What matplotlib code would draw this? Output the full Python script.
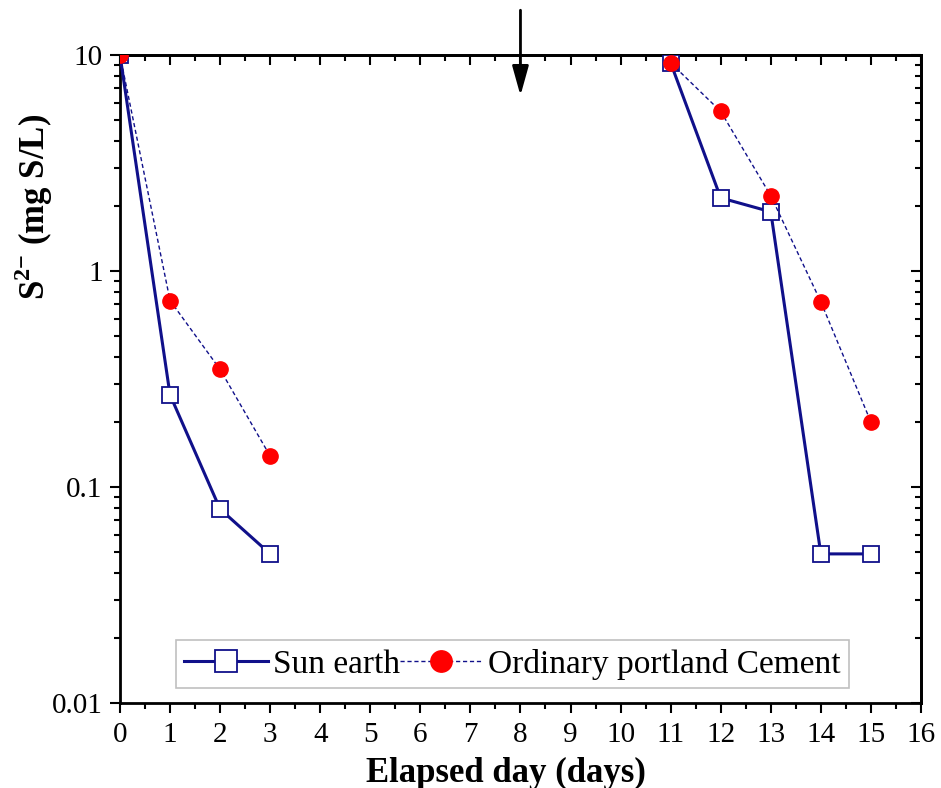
import matplotlib.pyplot as plt
from matplotlib.ticker import FixedLocator, LogLocator, NullFormatter, MultipleLocator

# data
days_first = [0, 1, 2, 3]
days_second = [11, 12, 13, 14, 15]

sun_first = [10, 0.267, 0.079, 0.049]
sun_second = [9.2, 2.18, 1.88, 0.049, 0.049]

opc_first = [10, 0.73, 0.35, 0.139]
opc_second = [9.2, 5.48, 2.23, 0.72, 0.2]

arrow_day = 8

SERIF = ['Liberation Serif', 'DejaVu Serif']
plt.rcParams['font.family'] = SERIF
plt.rcParams['mathtext.fontset'] = 'custom'
plt.rcParams['mathtext.rm'] = 'Liberation Serif'
plt.rcParams['mathtext.bf'] = 'Liberation Serif:bold'

fig = plt.figure(figsize=(9.41, 7.88), dpi=100)
ax = fig.add_axes([0.1275, 0.1079, 0.8512, 0.8223])

navy = '#10108a'

for i, (xs, ys) in enumerate([(days_first, sun_first), (days_second, sun_second)]):
    ax.plot(xs, ys, '-', color=navy, lw=2.2, marker='s', ms=11,
            mfc='white', mec=navy, mew=1.3,
            label='Sun earth' if i == 0 else None, zorder=3)

for i, (xs, ys) in enumerate([(days_first, opc_first), (days_second, opc_second)]):
    ax.plot(xs, ys, '--', color=navy, lw=1.0, dashes=(3, 2), marker='o', ms=11,
            mfc='red', mec='red',
            label='Ordinary portland Cement' if i == 0 else None, zorder=4)

ax.set_yscale('log')
ax.set_xlim(0, 16)
ax.set_ylim(0.01, 10)


def set_locators(a_x, a_y):
    if a_x is not None:
        a_x.set_major_locator(MultipleLocator(1))
        a_x.set_minor_locator(MultipleLocator(0.5))
    if a_y is not None:
        a_y.set_major_locator(FixedLocator([0.01, 0.1, 1, 10]))
        a_y.set_minor_locator(LogLocator(base=10, subs=range(2, 10)))
        a_y.set_minor_formatter(NullFormatter())


set_locators(ax.xaxis, ax.yaxis)
ax.set_yticklabels(['0.01', '0.1', '1', '10'])

# bottom / left ticks point out, top / right ticks point in (Origin style)
ax.tick_params(which='both', direction='out', width=1.5, labelsize=21,
               labelfontfamily='Liberation Serif')
ax.tick_params(which='major', length=7.5)
ax.tick_params(which='minor', length=4)
ax.tick_params(axis='x', pad=6)
ax.tick_params(axis='y', pad=5)

top = ax.secondary_xaxis('top')
set_locators(top.xaxis, None)
right = ax.secondary_yaxis('right')
set_locators(None, right.yaxis)
for sec in (top, right):
    sec.tick_params(which='both', direction='in', width=1.5,
                    labeltop=False, labelright=False)
    sec.tick_params(which='major', length=7.5)
    sec.tick_params(which='minor', length=4)
    for sp in sec.spines.values():
        sp.set_linewidth(2)
top.set_xticklabels([])
right.set_yticklabels([])

for sp in ax.spines.values():
    sp.set_linewidth(2)

ax.set_xlabel('Elapsed day (days)', fontsize=25, fontweight='bold', family=SERIF)
ax.xaxis.set_label_coords(0.482, -0.083)
ax.set_ylabel(r'S$^{\mathbf{2}\mathbf{-}}$ (mg S/L)', fontsize=25, fontweight='bold',
              family=SERIF)
ax.yaxis.set_label_coords(-0.081, 0.766)

ax.annotate('', xy=(arrow_day, 6.3), xytext=(arrow_day, 16.6),
            xycoords='data', annotation_clip=False,
            arrowprops=dict(arrowstyle='-|>,head_length=0.9,head_width=0.25',
                            color='black', lw=2, mutation_scale=20))

leg = ax.legend(loc='lower center', bbox_to_anchor=(0.49, 0.0), ncol=2,
                prop={'family': 'Liberation Serif', 'size': 24},
                frameon=True, fancybox=False, edgecolor='#b0b0b0',
                handlelength=2.5, handletextpad=0.15, columnspacing=0.0,
                borderpad=0.25, markerscale=1.4, borderaxespad=0.45)
leg.get_frame().set_linewidth(1.2)

fig.savefig('out.png', dpi=100)
